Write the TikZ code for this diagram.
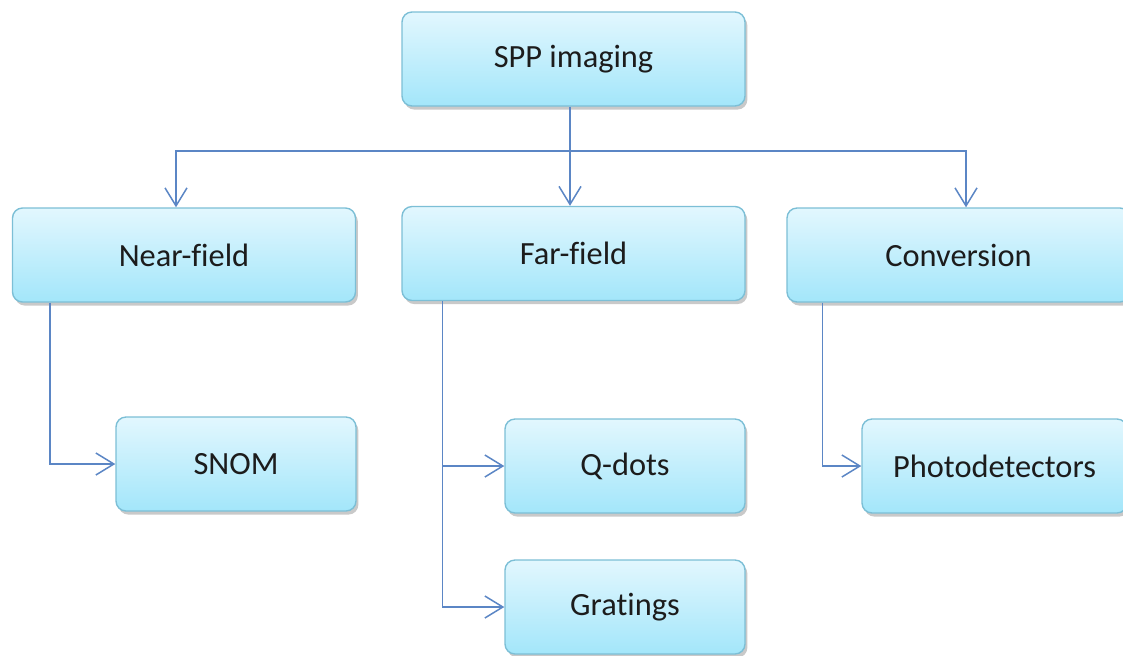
\documentclass[tikz,border=0pt]{standalone}
\usepackage{fontspec}
\setmainfont[Ligatures=NoCommon]{Carlito}
\usepackage{tikz}
\usetikzlibrary{arrows.meta,positioning,shadows}
\usepackage{xcolor}
\definecolor{boxTop}{HTML}{E2F7FE}
\definecolor{boxBottom}{HTML}{A3E6FA}
\definecolor{boxLine}{HTML}{7CBFD6}
\definecolor{linkBlue}{HTML}{5B86C5}
\definecolor{textDark}{HTML}{1C1C1C}

\begin{document}
\begin{tikzpicture}[x=0.5pt, y=-0.5pt,
  topicbox/.style={rectangle, rounded corners=5pt, draw=boxLine, line width=0.7pt,
    top color=boxTop, bottom color=boxBottom, text=textDark, font=\fontsize{16.2}{19}\selectfont,
    minimum height=47pt, inner sep=0pt,
    drop shadow={shadow xshift=1.2pt, shadow yshift=-1.8pt, opacity=0.3, fill=black!70}},
  widebox/.style={topicbox, minimum width=171.5pt},
  smallbox/.style={topicbox, minimum width=120pt},
  link/.style={draw=linkBlue, line width=0.75pt},
  arr/.style={link, -{Straight Barb[length=9pt, width=11pt, line width=0.75pt]}}
]
\useasboundingbox (0,0) rectangle (1123,655);

% --------- TOP LEVEL ----------
\node[widebox] (spp) at (573.5,59) {SPP imaging};

% --------- SECOND LEVEL ----------
\node[widebox] (near) at (184,255) {Near-field};
\node[widebox] (far)  at (573.5,253.5) {Far-field};
\node[widebox] (conv) at (958.5,255) {Conversion};

% --------- LEAVES ----------
\node[smallbox] (snom)  at (236,464) {SNOM};
\node[smallbox] (qdots) at (625,466) {Q-dots};
\node[smallbox] (grat)  at (625,607) {Gratings};
\node[smallbox, minimum width=132.5pt] (photo) at (994.5,466) {Photodetectors};

% bus under the root
\coordinate (bus) at (570,151);
\draw[link] (spp.south -| bus) -- (bus);
\draw[arr] (bus) -| ([xshift=-4pt]near.north);
\draw[arr] (bus) -- (bus |- far.north);
\draw[arr] (bus) -| ([xshift=3.75pt]conv.north);

% branches down the left side
\draw[arr] ([xshift=19pt]near.south west) |- (snom.west);
\draw[arr] ([xshift=20.5pt]far.south west) |- (qdots.west);
\draw[arr] ([xshift=20.5pt]far.south west) |- (grat.west);
\draw[arr] ([xshift=18pt]conv.south west) |- (photo.west);

\end{tikzpicture}
\end{document}
